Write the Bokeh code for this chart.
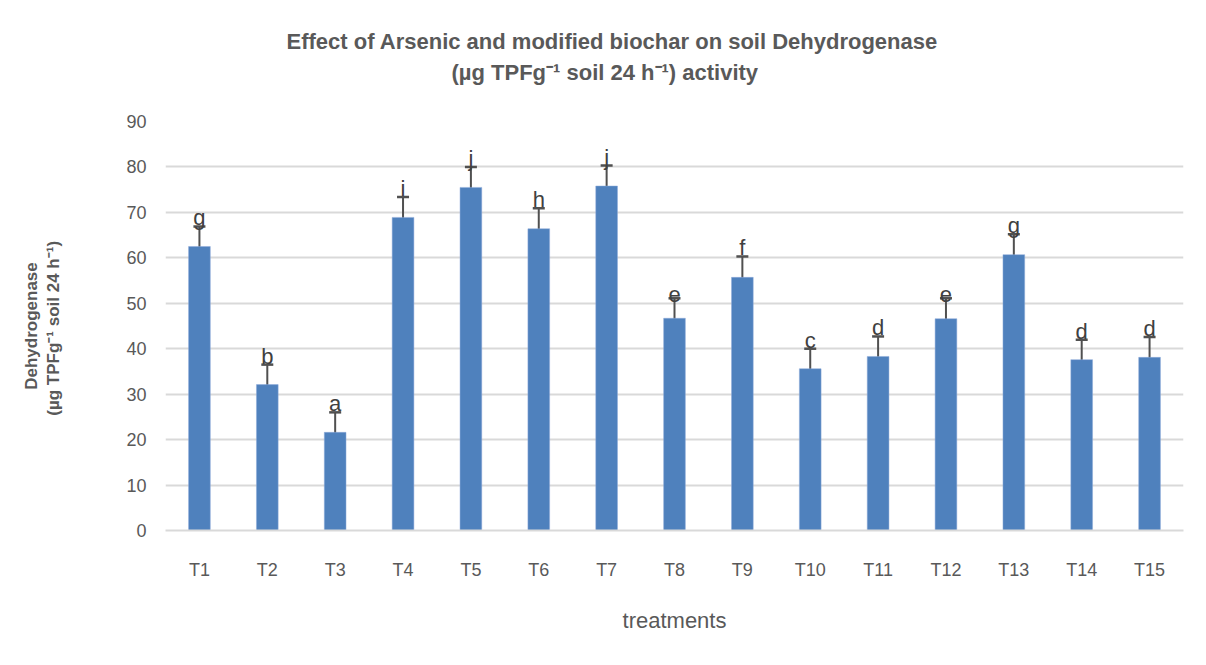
from bokeh.plotting import figure
from bokeh.models import ColumnDataSource, Whisker, TeeHead, Title, Range1d, FixedTicker
from bokeh.core.properties import value
from bokeh.embed import file_html
from bokeh.resources import INLINE

treatments = ["T1", "T2", "T3", "T4", "T5", "T6", "T7", "T8", "T9", "T10", "T11", "T12", "T13", "T14", "T15"]
activity = [62.5, 32.1, 21.6, 68.9, 75.5, 66.4, 75.8, 46.7, 55.7, 35.6, 38.3, 46.6, 60.7, 37.6, 38.1]
errors = [4.4, 4.4, 4.4, 4.5, 4.5, 4.5, 4.5, 4.4, 4.6, 4.4, 4.4, 4.5, 4.5, 4.4, 4.5]
letters = ["g", "b", "a", "i", "j", "h", "j", "e", "f", "c", "d", "e", "g", "d", "d"]
y_ticks = [0, 10, 20, 30, 40, 50, 60, 70, 80, 90]
title_lines = ["Effect of Arsenic and modified biochar on soil Dehydrogenase",
               "(\u00b5g TPFg\u207b\u00b9  soil 24 h\u207b\u00b9) activity"]

FONT = "Liberation Sans"
GREY = "#595959"
W, H = 1198, 657
LEFT, BOTTOM = 165, 127

src = ColumnDataSource(dict(
    x=treatments,
    y=activity,
    lo=[v - e for v, e in zip(activity, errors)],
    hi=[v + e for v, e in zip(activity, errors)],
    lab=letters,
))

p = figure(x_range=treatments, width=W, height=H, output_backend="svg",
           toolbar_location=None, min_border_left=LEFT, min_border_right=15,
           min_border_top=121, min_border_bottom=BOTTOM)
p.y_range = Range1d(0, 90)
p.x_range.range_padding = 0

p.vbar(x="x", top="y", width=0.32, source=src, fill_color="#4F81BD",
       line_color="#8EAADB", line_width=0.5)

w = Whisker(base="x", lower="lo", upper="hi", source=src, line_color="#505050", line_width=2,
            upper_head=TeeHead(size=12, line_color="#505050", line_width=2.5),
            lower_head=TeeHead(size=12, line_color="#505050", line_width=2.5))
p.add_layout(w)

p.text(x="x", y="hi", text="lab", source=src, text_align="center", text_baseline="bottom",
       y_offset=4, text_font=value(FONT), text_font_size="22px", text_color="#404040")

# two-line title, left aligned with offsets so that it is centred on the whole chart;
# a blank spacer title keeps a gap between the title and the plot area
title_style = dict(text_font=FONT, text_font_size="22px", text_font_style="bold", text_color=GREY)
spacer = Title(text=" ", align="left", standoff=8, **title_style)
t2 = Title(text=title_lines[1], align="left", offset=286, standoff=4, **title_style)
t1 = Title(text=title_lines[0], align="left", offset=121, standoff=4, **title_style)
p.add_layout(spacer, "above")
p.add_layout(t2, "above")
p.add_layout(t1, "above")

# axes
p.yaxis.ticker = FixedTicker(ticks=y_ticks)
p.yaxis.axis_line_color = None
p.yaxis.major_tick_line_color = None
p.yaxis.minor_tick_line_color = None
p.yaxis.major_label_text_font = FONT
p.yaxis.major_label_text_font_size = "18px"
p.yaxis.major_label_text_color = GREY
p.yaxis.major_label_standoff = 13
p.yaxis.axis_label = "Dehydrogenase\n(\u00b5g TPFg\u207b\u00b9  soil 24 h\u207b\u00b9)"
p.yaxis.axis_label_text_font = FONT
p.yaxis.axis_label_text_font_size = "17px"
p.yaxis.axis_label_text_font_style = "bold"
p.yaxis.axis_label_text_color = GREY
p.yaxis.axis_label_standoff = 60

p.xaxis.axis_line_color = "#D9D9D9"
p.xaxis.axis_line_width = 2
p.xaxis.major_tick_line_color = None
p.xaxis.minor_tick_line_color = None
p.xaxis.major_label_text_font = FONT
p.xaxis.major_label_text_font_size = "18px"
p.xaxis.major_label_text_color = GREY
p.xaxis.major_label_standoff = 23
p.xaxis.axis_label = "treatments"
p.xaxis.axis_label_text_font = FONT
p.xaxis.axis_label_text_font_size = "22px"
p.xaxis.axis_label_text_font_style = "normal"
p.xaxis.axis_label_text_color = GREY
p.xaxis.axis_label_standoff = 25

p.xgrid.grid_line_color = None
p.ygrid.grid_line_color = "#D9D9D9"
p.ygrid.grid_line_width = 2
p.outline_line_color = None

open("out.html", "w").write(file_html(p, INLINE))
